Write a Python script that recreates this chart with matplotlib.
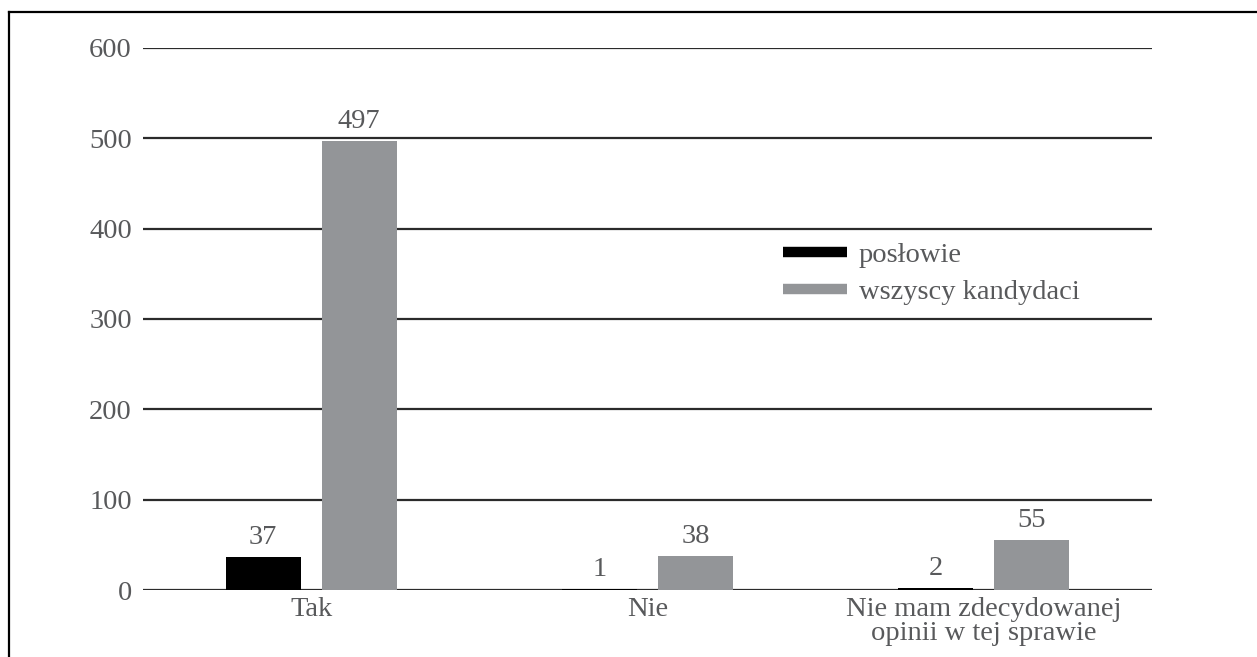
import matplotlib
matplotlib.use("Agg")
import matplotlib.pyplot as plt
from matplotlib.lines import Line2D
import numpy as np

categories = ["Tak", "Nie", "Nie mam zdecydowanej\nopinii w tej sprawie"]
series_names = ["posłowie", "wszyscy kandydaci"]
poslowie = [37, 1, 2]
kandydaci = [497, 38, 55]
y_ticks = [0, 100, 200, 300, 400, 500, 600]

TEXT = "#58595b"
GRID = "#2b2b2b"
BLACK = "#000000"
GREY = "#939598"
FS = 20.5

plt.rcParams["font.family"] = ["Liberation Serif", "DejaVu Serif"]

W, H = 1257, 657
fig = plt.figure(figsize=(W / 100, H / 100), dpi=100)
ax = fig.add_axes([143 / W, 1 - 590 / H, (1152 - 143) / W, (590 - 48) / H])

x = np.arange(len(categories))
bw = 0.223
off = 0.1427
b1 = ax.bar(x - off, poslowie, bw, color=BLACK, zorder=3)
b2 = ax.bar(x + off, kandydaci, bw, color=GREY, zorder=3)

for bars, vals in ((b1, poslowie), (b2, kandydaci)):
    for rect, v in zip(bars, vals):
        ax.annotate(str(v), (rect.get_x() + rect.get_width() / 2, v),
                    xytext=(0, 5), textcoords="offset points",
                    ha="center", va="bottom", fontsize=FS, color=TEXT)

ax.set_xlim(-0.5, 2.5)
ax.set_ylim(0, 600)
ax.set_yticks(y_ticks)
ax.set_xticks(x)
ax.set_xticklabels(categories, linespacing=0.95)
ax.tick_params(axis="both", length=0, labelsize=FS, labelcolor=TEXT)
ax.tick_params(axis="y", pad=8)
ax.tick_params(axis="x", pad=5)
ax.yaxis.grid(True, color=GRID, linewidth=1.6, zorder=1)
ax.set_axisbelow(True)
for s in ax.spines.values():
    s.set_visible(False)

handles = [Line2D([], [], color=BLACK, lw=7.5, solid_capstyle="butt"),
           Line2D([], [], color=GREY, lw=7.5, solid_capstyle="butt")]
leg = ax.legend(handles, series_names, loc="upper left",
                bbox_to_anchor=((772 - 143) / (1152 - 143), (590 - 231) / (590 - 48)),
                frameon=False, fontsize=FS, handlelength=2.25, handletextpad=0.4,
                labelspacing=0.38, borderaxespad=0)
for t in leg.get_texts():
    t.set_color(TEXT)

# frame around the figure (left and top edges)
fig.add_artist(Line2D([8.5 / W, 8.5 / W], [0, 1 - 11.5 / H], transform=fig.transFigure,
                      color="black", lw=1.6, solid_capstyle="projecting"))
fig.add_artist(Line2D([8.5 / W, 1], [1 - 11.5 / H, 1 - 11.5 / H], transform=fig.transFigure,
                      color="black", lw=1.6, solid_capstyle="projecting"))

fig.savefig("out.png", dpi=100, facecolor="white")
